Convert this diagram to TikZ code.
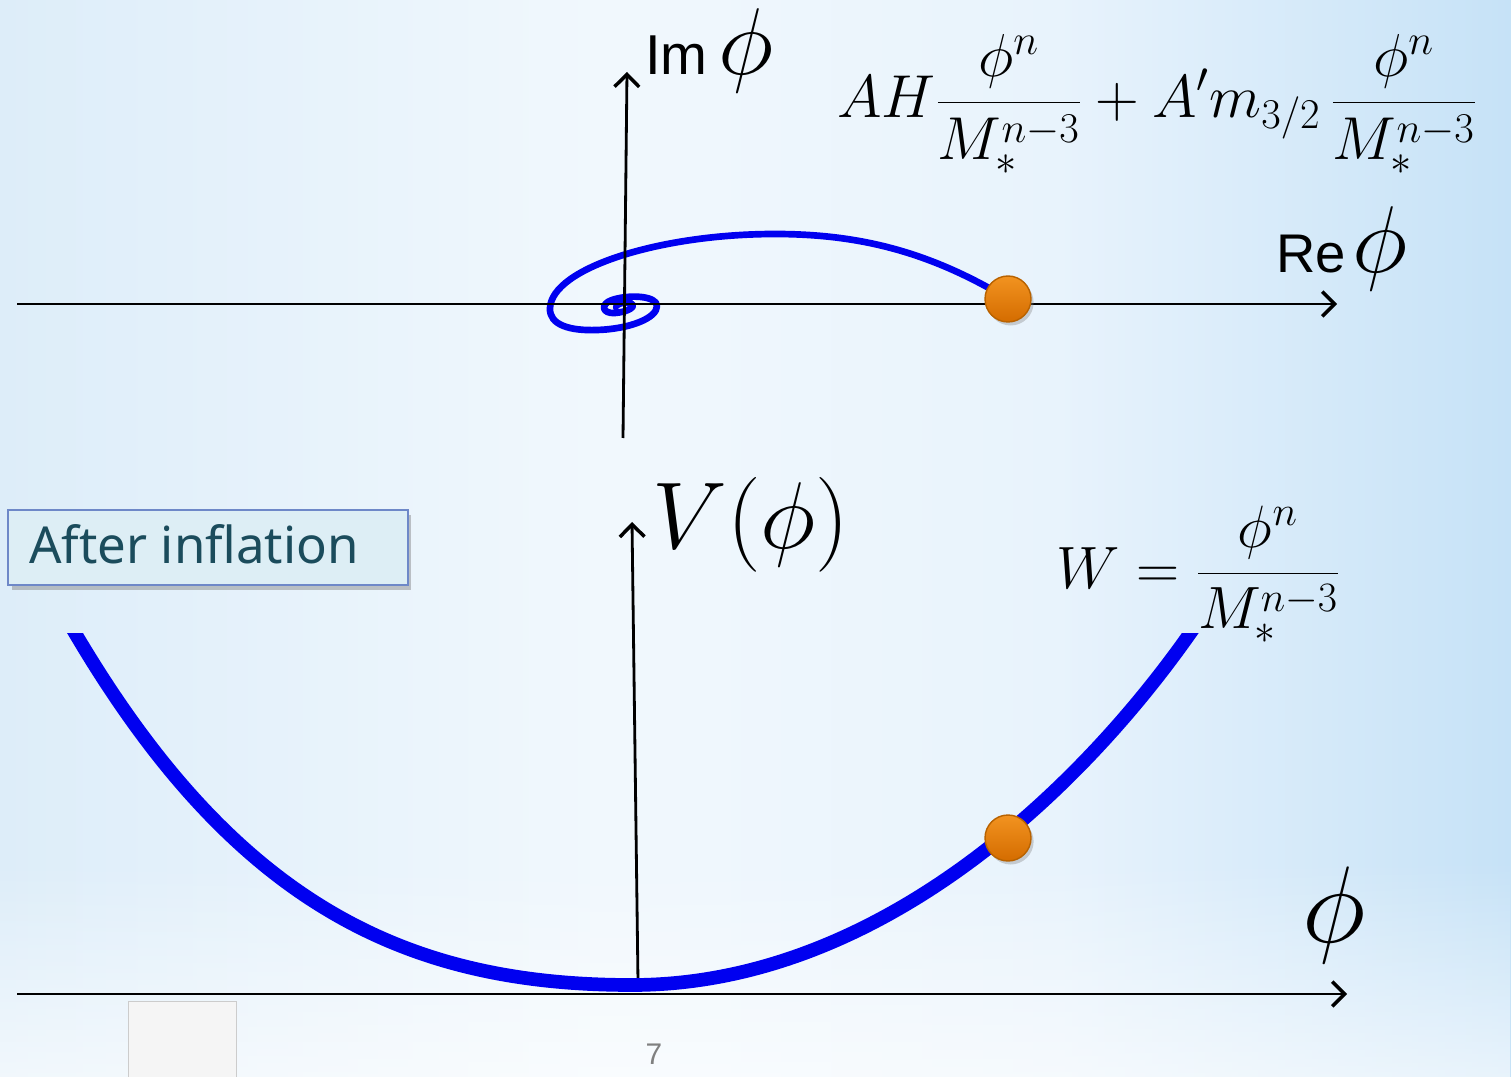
\RequirePackage{fix-cm}
\documentclass[tikz,border=0pt]{standalone}
\usepackage{fontspec}
\setsansfont{Liberation Sans}
\newfontfamily\boxfont{Noto Sans}
\usetikzlibrary{arrows.meta,shadows,fadings}
\definecolor{bgA}{HTML}{DDEDF9}
\definecolor{bgB}{HTML}{F1F8FD}
\definecolor{bgD}{HTML}{E8F3FC}
\definecolor{bgC}{HTML}{C6E2F7}
\definecolor{band}{HTML}{C9E2F4}
\definecolor{spblue}{HTML}{0000F0}
\definecolor{ballA}{HTML}{F29320}
\definecolor{ballB}{HTML}{D46C00}
\definecolor{ballE}{HTML}{B86200}
\definecolor{boxfill}{HTML}{DDEEF5}
\definecolor{boxline}{HTML}{6E88C8}
\definecolor{boxtext}{HTML}{1B4C5C}
\definecolor{pgray}{HTML}{808080}
\pgfdeclarehorizontalshading{bgshade}{100bp}{
  color(0bp)=(bgA); color(25bp)=(bgA); color(45bp)=(bgB); color(60bp)=(bgD); color(75bp)=(bgC); color(100bp)=(bgC)}
\tikzfading[name=bandfade,top color=transparent!100,middle color=transparent!50,bottom color=transparent!100]
\tikzfading[name=lowfade,top color=transparent!100,bottom color=transparent!40]
\begin{document}
\begin{tikzpicture}[x=0.02cm,y=-0.02cm,
  axis/.style={line width=1.6pt,-{Straight Barb[length=7pt,width=14pt,line width=2pt]}},
  ballst/.style={circle,minimum size=0.92cm,inner sep=0pt,top color=ballA,bottom color=ballB,draw=ballE,line width=0.8pt,
     drop shadow={shadow xshift=1.5pt,shadow yshift=-2pt,opacity=0.35}},
  lab/.style={inner sep=0pt},
]
\path[use as bounding box] (0,0) rectangle (1511,1077);
\shade[shading=bgshade] (0,0) rectangle (1511,1077);
\fill[band,path fading=bandfade] (0,630) rectangle (1511,770);
\fill[band,path fading=bandfade,opacity=0.7] (0,780) rectangle (1511,860);
\fill[white,path fading=lowfade] (0,860) rectangle (1511,1077);

% ---------- top panel ----------
\draw[spblue,line width=3.8pt,line join=round]
  (1008,299) .. controls (930,252) and (860,234) .. (775,234)
  .. controls (660,234) and (552,268) .. (550,308)
  .. controls (549,325) and (570,331) .. (597,330)
  .. controls (630,329) and (657,318) .. (657,306)
  .. controls (657,296) and (630,294) .. (612,300)
  .. controls (600,304) and (602,314) .. (615,313)
  .. controls (628,312) and (638,306) .. (630,303)
  .. controls (622,301) and (612,306) .. (618,309);
\coordinate (rs) at (17,304);
\coordinate (re) at (1337,304);
\coordinate (is) at (623,438);
\coordinate (ie) at (627,72);
\draw[axis] (rs) -- (re);
\draw[axis] (is) -- (ie);
\node[ballst] (ball1) at (1008,299) {};

\node[lab,anchor=base west,font=\fontsize{32}{36}\selectfont\sffamily] (imlab) at (645,75) {Im};
\node[lab,anchor=base west,font=\fontsize{54}{60}\selectfont] (imphi) at (718,75) {$\phi$};
\node[lab,anchor=base west,font=\fontsize{31}{36}\selectfont\sffamily] (relab) at (1276,273) {Re};
\node[lab,anchor=base west,font=\fontsize{54}{60}\selectfont] (rephi) at (1352,273) {$\phi$};

\node[lab,anchor=base west,font=\fontsize{34.5}{40}\selectfont] (aterm) at (837,118)
  {$\displaystyle AH\frac{\phi^n}{M_*^{n-3}}+A'm_{3/2}\,\frac{\phi^n}{M_*^{n-3}}$};

% ---------- bottom panel ----------
\coordinate (vs) at (638,982);
\coordinate (ve) at (632,522);
\draw[axis] (vs) -- (ve);
\begin{scope}
\clip (0,633) rectangle (1511,1077);
\draw[spblue,line width=7.8pt]
  (60,607) .. controls (225,900) and (400,985) .. (632,985)
  .. controls (890,985) and (1100,770) .. (1206,610);
\end{scope}
\coordinate (ps) at (17,994);
\coordinate (pe) at (1347,994);
\draw[axis] (ps) -- (pe);
\node[ballst] (ball2) at (1008,838) {};

\node[lab,anchor=base west,font=\fontsize{54}{60}\selectfont] (vlab) at (652,548) {$V(\phi)$};
\node[lab,anchor=base west,font=\fontsize{62}{70}\selectfont] (philab) at (1302,942) {$\phi$};
\node[lab,anchor=base west,font=\fontsize{34}{40}\selectfont] (wlab) at (1056,588)
  {$\displaystyle W=\frac{\phi^n}{M_*^{n-3}}$};

\node[draw=boxline,fill=boxfill,line width=1.4pt,minimum width=8cm,minimum height=1.5cm,inner sep=0pt,
  drop shadow={shadow xshift=2pt,shadow yshift=-3pt,opacity=0.45}] (after) at (208,547.5) {};
\node[lab,anchor=base west,text=boxtext,font=\fontsize{29}{34}\selectfont\boxfont] (aftertxt) at (29,563) {After inflation};

\draw[draw=black!20,fill=black!4,line width=0.5pt] (128,1001) rectangle (236,1080);
\node[lab,anchor=base,text=pgray,font=\fontsize{17}{20}\selectfont\sffamily] (pnum) at (654,1064) {7};
\end{tikzpicture}
\end{document}
